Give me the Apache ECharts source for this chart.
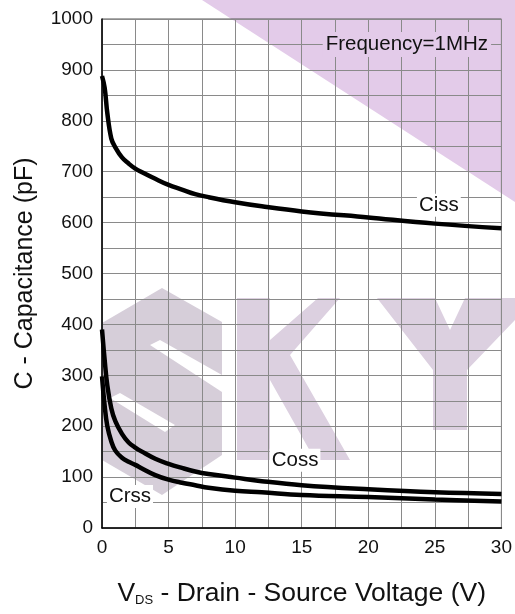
<!DOCTYPE html>
<html><head><meta charset="utf-8">
<script src="https://cdn.jsdelivr.net/npm/echarts@6/dist/echarts.min.js"></script>
<style>html,body{margin:0;padding:0;background:#fff}#c{width:515px;height:614px}</style>
</head><body><div id="c"></div>
<script>
const vds = [0, 0.2, 0.4, 0.7, 1, 1.5, 2, 2.5, 3, 4, 5, 6, 7, 8, 10, 12, 15, 20, 25, 30];
const ciss = [888, 865, 815, 765, 748, 728, 716, 706, 699, 686, 674, 665, 656, 650, 640, 632, 622, 610, 598, 589];
const coss = [390, 330, 280, 235, 210, 185, 168, 158, 150, 136, 126, 118, 111, 106, 99, 92, 84, 76, 70, 67];
const crss = [298, 240, 200, 170, 152, 138, 130, 124, 117, 104, 95, 89, 84, 79, 73, 70, 65, 61, 56, 52];
const xTicks = [0, 5, 10, 15, 20, 25, 30];
const yTicks = [0, 100, 200, 300, 400, 500, 600, 700, 800, 900, 1000];
const seriesNames = ['Ciss', 'Coss', 'Crss'];
const seriesLabelPos = [[25.3, 634], [14.5, 133], [2.1, 62]];
const noteText = 'Frequency=1MHz';
const notePos = [22.9, 950];

const pair = (ys) => vds.map((x, i) => [x, ys[i]]);
const font = '"Liberation Sans", Arial, sans-serif';
const chart = echarts.init(document.getElementById('c'), null, {renderer: 'canvas'});

function lineSeries(name, ys, lp, bg) {
  return {
    name, type: 'line', data: pair(ys), smooth: 0.4, showSymbol: false, z: 5,
    lineStyle: {color: '#000', width: 4.5},
    markPoint: {
      symbol: 'rect', symbolSize: 0.01,
      data: [{coord: lp, value: name}],
      label: {show: true, formatter: name, color: '#111', fontFamily: font, fontSize: 20.5,
        backgroundColor: bg, padding: [1, 2]}
    }
  };
}

const wm1 = '#e3cbe9', wm2 = '#dcd0e0', wm3 = '#d6ced9';
chart.setOption({
  animation: false,
  grid: {left: 102, right: 11, top: 19, bottom: 86, show: true, borderColor: '#555', borderWidth: 1},
  graphic: [
    {type: 'polygon', z: -10, shape: {points: [[202,0],[515,0],[515,202]]}, style: {fill: wm1}},
    {type: 'polygon', z: -10, shape: {points: [[162,288],[222,322],[222,455],[162,495],[102,460],[102,323]]}, style: {fill: wm3}},
    {type: 'polygon', z: -9, shape: {points: [[150,345],[160,340],[222,375],[222,392]]}, style: {fill: '#fff'}},
    {type: 'polygon', z: -9, shape: {points: [[110,398],[120,393],[175,425],[165,432]]}, style: {fill: '#fff'}},
    {type: 'polygon', z: -10, shape: {points: [[237,298],[270,298],[270,340],[318,298],[340,298],[290,355],[350,460],[315,460],[270,380],[270,460],[237,460]]}, style: {fill: wm2}},
    {type: 'polygon', z: -10, shape: {points: [[377,298],[435,298],[450,330],[465,298],[515,298],[515,320],[467,370],[467,430],[433,430],[433,370]]}, style: {fill: wm2}}
  ],
  xAxis: {
    type: 'value', min: 0, max: 30, interval: 5,
    name: '{v|V}{s|DS}{n| - Drain - Source Voltage (V)}',
    nameLocation: 'middle', nameGap: 52,
    nameTextStyle: {rich: {
      v: {fontFamily: font, fontSize: 26.5, color: '#111'},
      s: {fontFamily: font, fontSize: 13, color: '#111', verticalAlign: 'bottom', padding: [9, 0, 0, 0]},
      n: {fontFamily: font, fontSize: 26.5, color: '#111'}
    }},
    axisLine: {show: true, onZero: false, lineStyle: {color: '#000', width: 1.5}},
    axisTick: {show: false},
    axisLabel: {fontFamily: font, fontSize: 19, color: '#111', margin: 10, formatter: v => String(v)},
    splitLine: {show: true, lineStyle: {color: '#8a8a8a', width: 1}},
    minorTick: {show: false, splitNumber: 2},
    minorSplitLine: {show: true, lineStyle: {color: '#8a8a8a', width: 1}}
  },
  yAxis: {
    type: 'value', min: 0, max: 1000, interval: 100,
    name: 'C - Capacitance (pF)', nameLocation: 'middle', nameGap: 64,
    nameTextStyle: {fontFamily: font, fontSize: 25, color: '#111'},
    axisLine: {show: true, onZero: false, lineStyle: {color: '#000', width: 1.5}},
    axisTick: {show: false},
    axisLabel: {fontFamily: font, fontSize: 19, color: '#111', margin: 9, formatter: v => String(v)},
    splitLine: {show: true, lineStyle: {color: '#8a8a8a', width: 1}},
    minorTick: {show: false, splitNumber: 2},
    minorSplitLine: {show: true, lineStyle: {color: '#8a8a8a', width: 1}}
  },
  series: [
    lineSeries(seriesNames[0], ciss, seriesLabelPos[0], '#fff'),
    lineSeries(seriesNames[1], coss, seriesLabelPos[1], '#fff'),
    lineSeries(seriesNames[2], crss, seriesLabelPos[2], '#fff'),
    {type: 'scatter', data: [], markPoint: {symbol: 'rect', symbolSize: 0.01,
      data: [{coord: notePos, value: noteText}],
      label: {show: true, formatter: noteText, color: '#111', fontFamily: font, fontSize: 20.5,
        backgroundColor: wm1, padding: [2, 3]}}}
  ]
});
</script></body></html>
